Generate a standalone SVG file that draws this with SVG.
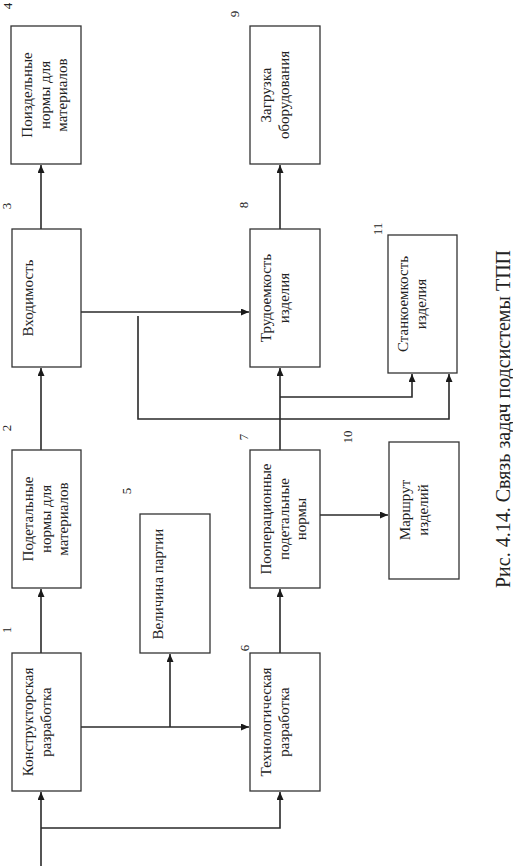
<svg xmlns="http://www.w3.org/2000/svg" width="513" height="866" viewBox="0 0 513 866">
<style>
.box{fill:#fff;stroke:#333;stroke-width:1.3}
.t{font-family:"Liberation Serif","Times New Roman",serif;font-size:15px;fill:#222;text-anchor:middle}
.n{font-family:"Liberation Serif","Times New Roman",serif;font-size:13px;fill:#222;text-anchor:middle}
.cap{font-family:"Liberation Serif","Times New Roman",serif;font-size:20px;fill:#222;text-anchor:middle}
.c{fill:none;stroke:#2a2a2a;stroke-width:1.6}
</style>
<defs>
<marker id="a" markerWidth="9" markerHeight="7" refX="8" refY="3.5" orient="auto" markerUnits="userSpaceOnUse">
<path d="M0,0 L8,3.5 L0,7 z" fill="#1a1a1a"/>
</marker>
</defs>
<rect width="513" height="866" fill="#fff"/>
<g id="connectors">
<path class="c" d="M41,866 V792" marker-end="url(#a)"/>
<path class="c" d="M41,828 H280 V792" marker-end="url(#a)"/>
<path class="c" d="M41,653 V589" marker-end="url(#a)"/>
<path class="c" d="M41,450 V368" marker-end="url(#a)"/>
<path class="c" d="M41,229 V165" marker-end="url(#a)"/>
<path class="c" d="M81,727 H249" marker-end="url(#a)"/>
<path class="c" d="M170,727 V654" marker-end="url(#a)"/>
<path class="c" d="M280,653 V589" marker-end="url(#a)"/>
<path class="c" d="M320,515 H388" marker-end="url(#a)"/>
<path class="c" d="M280,450 V368" marker-end="url(#a)"/>
<path class="c" d="M280,397 H412 V374" marker-end="url(#a)"/>
<path class="c" d="M81,312 H249" marker-end="url(#a)"/>
<path class="c" d="M138,316 V419 H449 V374" marker-end="url(#a)"/>
<path class="c" d="M280,229 V165" marker-end="url(#a)"/>
</g>
<g id="n1">
<rect class="box" x="12" y="653" width="69" height="138"/>
<text class="t" transform="translate(12,722) rotate(-90)"><tspan x="0" y="21">Конструкторская</tspan><tspan x="0" y="39">разработка</tspan></text>
<text class="n" transform="translate(11,630) rotate(-90)">1</text>
</g>
<g id="n2">
<rect class="box" x="12" y="450" width="69" height="138"/>
<text class="t" transform="translate(12,519) rotate(-90)"><tspan x="0" y="21">Подетальные</tspan><tspan x="0" y="39">нормы для</tspan><tspan x="0" y="56">материалов</tspan></text>
<text class="n" transform="translate(11,428) rotate(-90)">2</text>
</g>
<g id="n3">
<rect class="box" x="12" y="229" width="69" height="138"/>
<text class="t" transform="translate(12,298) rotate(-90)"><tspan x="0" y="21">Входимость</tspan></text>
<text class="n" transform="translate(11,206) rotate(-90)">3</text>
</g>
<g id="n4">
<rect class="box" x="11" y="26" width="70" height="138"/>
<text class="t" transform="translate(11,95) rotate(-90)"><tspan x="0" y="21">Поиздельные</tspan><tspan x="0" y="39">нормы для</tspan><tspan x="0" y="56">материалов</tspan></text>
<text class="n" transform="translate(12,6) rotate(-90)">4</text>
</g>
<g id="n5">
<rect class="box" x="140" y="514" width="70" height="139"/>
<text class="t" transform="translate(140,584) rotate(-90)"><tspan x="0" y="23">Величина партии</tspan></text>
<text class="n" transform="translate(131,491) rotate(-90)">5</text>
</g>
<g id="n6">
<rect class="box" x="250" y="653" width="70" height="138"/>
<text class="t" transform="translate(250,722) rotate(-90)"><tspan x="0" y="21">Технологическая</tspan><tspan x="0" y="39">разработка</tspan></text>
<text class="n" transform="translate(249,648) rotate(-90)">6</text>
</g>
<g id="n7">
<rect class="box" x="250" y="450" width="70" height="138"/>
<text class="t" transform="translate(250,519) rotate(-90)"><tspan x="0" y="21">Пооперационные</tspan><tspan x="0" y="39">подетальные</tspan><tspan x="0" y="56">нормы</tspan></text>
<text class="n" transform="translate(248,437) rotate(-90)">7</text>
</g>
<g id="n8">
<rect class="box" x="250" y="229" width="70" height="138"/>
<text class="t" transform="translate(250,298) rotate(-90)"><tspan x="0" y="21">Трудоемкость</tspan><tspan x="0" y="39">изделия</tspan></text>
<text class="n" transform="translate(248,205) rotate(-90)">8</text>
</g>
<g id="n9">
<rect class="box" x="250" y="26" width="70" height="138"/>
<text class="t" transform="translate(250,95) rotate(-90)"><tspan x="0" y="21">Загрузка</tspan><tspan x="0" y="39">оборудования</tspan></text>
<text class="n" transform="translate(239,14) rotate(-90)">9</text>
</g>
<g id="n10">
<rect class="box" x="389" y="442" width="70" height="137"/>
<text class="t" transform="translate(389,510) rotate(-90)"><tspan x="0" y="21">Маршрут</tspan><tspan x="0" y="39">изделий</tspan></text>
<text class="n" transform="translate(352,437) rotate(-90)">10</text>
</g>
<g id="n11">
<rect class="box" x="388" y="235" width="69" height="138"/>
<text class="t" transform="translate(388,304) rotate(-90)"><tspan x="0" y="20">Станкоемкость</tspan><tspan x="0" y="38">изделия</tspan></text>
<text class="n" transform="translate(382,229) rotate(-90)">11</text>
</g>
<g id="caption">
<text class="cap" transform="translate(510,419) rotate(-90)">Рис. 4.14. Связь задач подсистемы ТПП</text>
</g>
</svg>
